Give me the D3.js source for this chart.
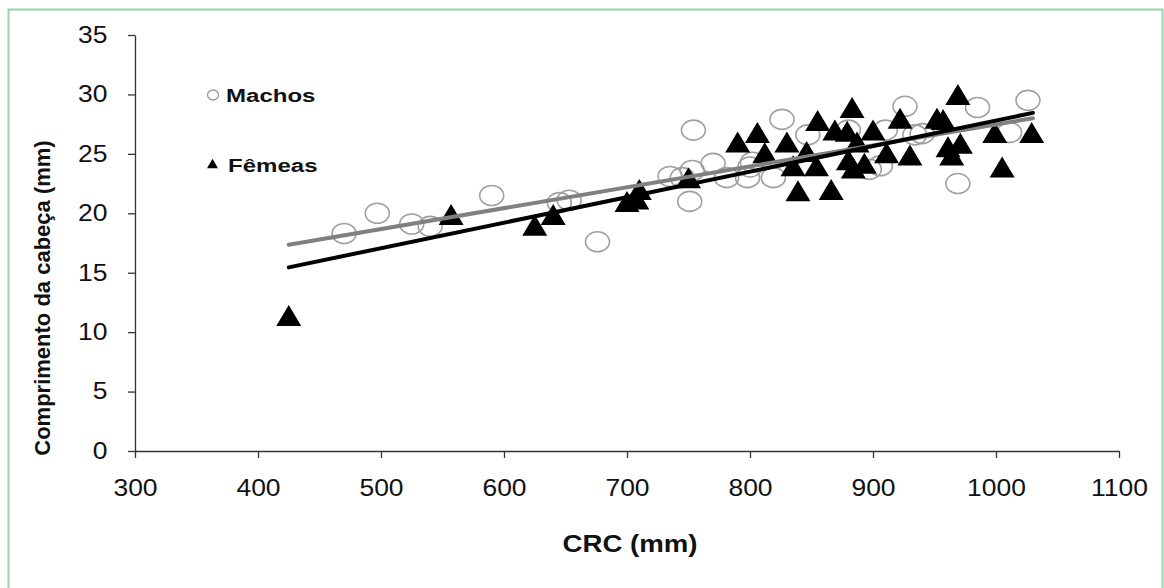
<!DOCTYPE html>
<html>
<head>
<meta charset="utf-8">
<script src="https://cdn.jsdelivr.net/npm/d3@7"></script>
<style>
  body { margin: 0; background: #fff; }
  svg { display: block; font-family: "Liberation Sans", Arial, sans-serif; }
  .axis path, .axis line { stroke: #333; stroke-width: 1.3; }
  .axis text { font-size: 23px; fill: #111; }
</style>
</head>
<body>
<script>
// Machos: CRC (mm), comprimento da cabeça (mm)
var machosCRC = [470, 497, 525, 540, 590, 645, 653, 676, 735, 745, 753, 754, 751, 770, 781,
                 798, 800, 802, 819, 826, 847, 880, 897, 906, 910, 926, 934, 940, 969, 985, 1011, 1026];
var machosCab = [18.3, 20.0, 19.1, 18.9, 21.5, 20.9, 21.1, 17.6, 23.1, 23.0, 23.6, 27.0, 21.0, 24.2, 23.0,
                 23.0, 23.9, 24.3, 23.0, 27.9, 26.6, 27.0, 23.7, 24.0, 27.0, 29.0, 26.6, 26.7, 22.5, 28.9, 26.8, 29.5];

// Fêmeas
var femeasCRC = [425, 557, 625, 640, 700, 708, 710, 750, 790, 806, 812, 830, 839, 835, 846, 854, 855,
                 866, 869, 879, 883, 880, 884, 887, 893, 900, 911, 922, 930, 952, 957, 961, 964, 969, 971,
                 999, 1005, 1029];
var femeasCab = [11.4, 19.9, 19.0, 19.9, 21.0, 21.2, 22.0, 23.0, 26.0, 26.8, 25.1, 26.0, 21.9, 24.0, 25.2, 24.0, 27.8,
                 22.0, 27.0, 26.9, 28.9, 24.5, 23.8, 26.0, 24.2, 27.0, 25.1, 28.0, 24.9, 28.0, 27.9, 25.6, 24.9, 30.0, 25.9,
                 26.8, 23.9, 26.8];

// linhas de tendência (inicio, fim)
var trendX = [425, 1030];
var machosTrend = [17.35, 28.0];
var femeasTrend = [15.45, 28.45];

var xTicks = [300, 400, 500, 600, 700, 800, 900, 1000, 1100];
var yTicks = [0, 5, 10, 15, 20, 25, 30, 35];

var width = 1164, height = 588;
var margin = { top: 35, right: 45, bottom: 137, left: 135 };
var w = width - margin.left - margin.right;
var h = height - margin.top - margin.bottom;

var svg = d3.select("body").append("svg")
    .attr("width", width)
    .attr("height", height);

// moldura verde
svg.append("rect")
    .attr("x", 8.5).attr("y", 9.5)
    .attr("width", 1154).attr("height", 620)
    .attr("fill", "none")
    .attr("stroke", "#93d5a6")
    .attr("stroke-width", 2);

var g = svg.append("g")
    .attr("transform", "translate(" + margin.left + "," + margin.top + ")");

var x = d3.scaleLinear().domain([300, 1100]).range([0, w]);
var y = d3.scaleLinear().domain([0, 35]).range([h, 0]);

// eixos
var yAxis = g.append("g").attr("class", "axis")
    .call(d3.axisLeft(y).tickValues(yTicks).tickFormat(d3.format("d"))
        .tickSize(7).tickSizeOuter(0).tickPadding(20));
yAxis.selectAll("text").attr("transform", "scale(1.15,1)").attr("x", -24);

var xAxis = g.append("g").attr("class", "axis")
    .attr("transform", "translate(0," + h + ")")
    .call(d3.axisBottom(x).tickValues(xTicks).tickFormat(d3.format("d"))
        .tickSize(7).tickSizeOuter(0).tickPadding(20));
xAxis.selectAll("text").attr("transform", "scale(1.15,1)")
    .attr("dy", "0.71em").attr("y", 29);

// pontos machos
g.selectAll(".macho")
    .data(d3.range(machosCRC.length))
    .enter()
    .append("ellipse")
    .attr("class", "macho")
    .attr("cx", function (i) { return x(machosCRC[i]); })
    .attr("cy", function (i) { return y(machosCab[i]); })
    .attr("rx", 12)
    .attr("ry", 10)
    .attr("fill", "none")
    .attr("stroke", "#a0a0a0")
    .attr("stroke-width", 1.6);

// triângulos fêmeas
function tri(cx, cy, bw, th) {
    return "M" + cx + "," + (cy - th / 2) +
        "L" + (cx + bw / 2) + "," + (cy + th / 2) +
        "L" + (cx - bw / 2) + "," + (cy + th / 2) + "Z";
}
g.selectAll(".femea")
    .data(d3.range(femeasCRC.length))
    .enter()
    .append("path")
    .attr("class", "femea")
    .attr("d", function (i) { return tri(x(femeasCRC[i]), y(femeasCab[i]), 25, 21); })
    .attr("fill", "#000");

// tendências
var line = d3.line()
    .x(function (d) { return x(d[0]); })
    .y(function (d) { return y(d[1]); });

g.append("path")
    .datum(trendX.map(function (v, i) { return [v, machosTrend[i]]; }))
    .attr("d", line)
    .attr("stroke", "#808080")
    .attr("stroke-width", 4)
    .attr("stroke-linecap", "round")
    .attr("fill", "none");

g.append("path")
    .datum(trendX.map(function (v, i) { return [v, femeasTrend[i]]; }))
    .attr("d", line)
    .attr("stroke", "#000")
    .attr("stroke-width", 4)
    .attr("stroke-linecap", "round")
    .attr("fill", "none");

// legenda
svg.append("ellipse")
    .attr("cx", 213).attr("cy", 95).attr("rx", 5.5).attr("ry", 5)
    .attr("fill", "none").attr("stroke", "#999").attr("stroke-width", 1.3);
svg.append("text")
    .attr("transform", "translate(226,102) scale(1.3,1)")
    .attr("font-size", 18.5).attr("font-weight", "bold").attr("fill", "#111")
    .text("Machos");
svg.append("path")
    .attr("d", tri(212.5, 163.5, 11, 9.5))
    .attr("fill", "#000");
svg.append("text")
    .attr("transform", "translate(228,172) scale(1.3,1)")
    .attr("font-size", 18.5).attr("font-weight", "bold").attr("fill", "#111")
    .text("Fêmeas");

// títulos dos eixos
svg.append("text")
    .attr("transform", "translate(630,552) scale(1.2,1)")
    .attr("text-anchor", "middle")
    .attr("font-size", 23).attr("font-weight", "bold").attr("fill", "#111")
    .text("CRC (mm)");

svg.append("text")
    .attr("transform", "translate(50,298) rotate(-90)")
    .attr("text-anchor", "middle")
    .attr("font-size", 22).attr("font-weight", "bold").attr("fill", "#111")
    .text("Comprimento da cabeça (mm)");
</script>
</body>
</html>
